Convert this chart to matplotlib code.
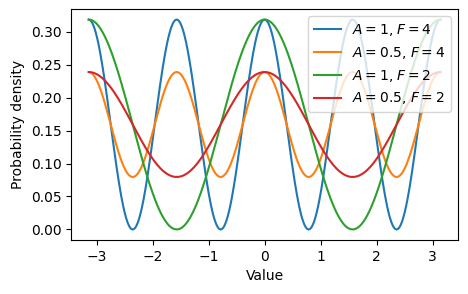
import numpy as np
import matplotlib.pyplot as plt

# cardioid parameters
amps = [1, 0.5, 1, 0.5]
freqs = [4, 4, 2, 2]
labels = ['$A=1$, $F=4$', '$A=0.5$, $F=4$', '$A=1$, $F=2$', '$A=0.5$, $F=2$']

x = np.linspace(-np.pi, np.pi, 500)

fig, ax = plt.subplots(figsize=(4.68, 2.94), dpi=100)
for a, f, lab in zip(amps, freqs, labels):
    # density of the cardioid distribution on the circle
    y = (1 + a * np.cos(f * x)) / (2 * np.pi)
    ax.plot(x, y, label=lab)

ax.set_xlabel('Value')
ax.set_ylabel('Probability density')
ax.legend(loc='upper right')
fig.subplots_adjust(left=0.152, right=0.979, top=0.969, bottom=0.184)
fig.savefig('out.png')
